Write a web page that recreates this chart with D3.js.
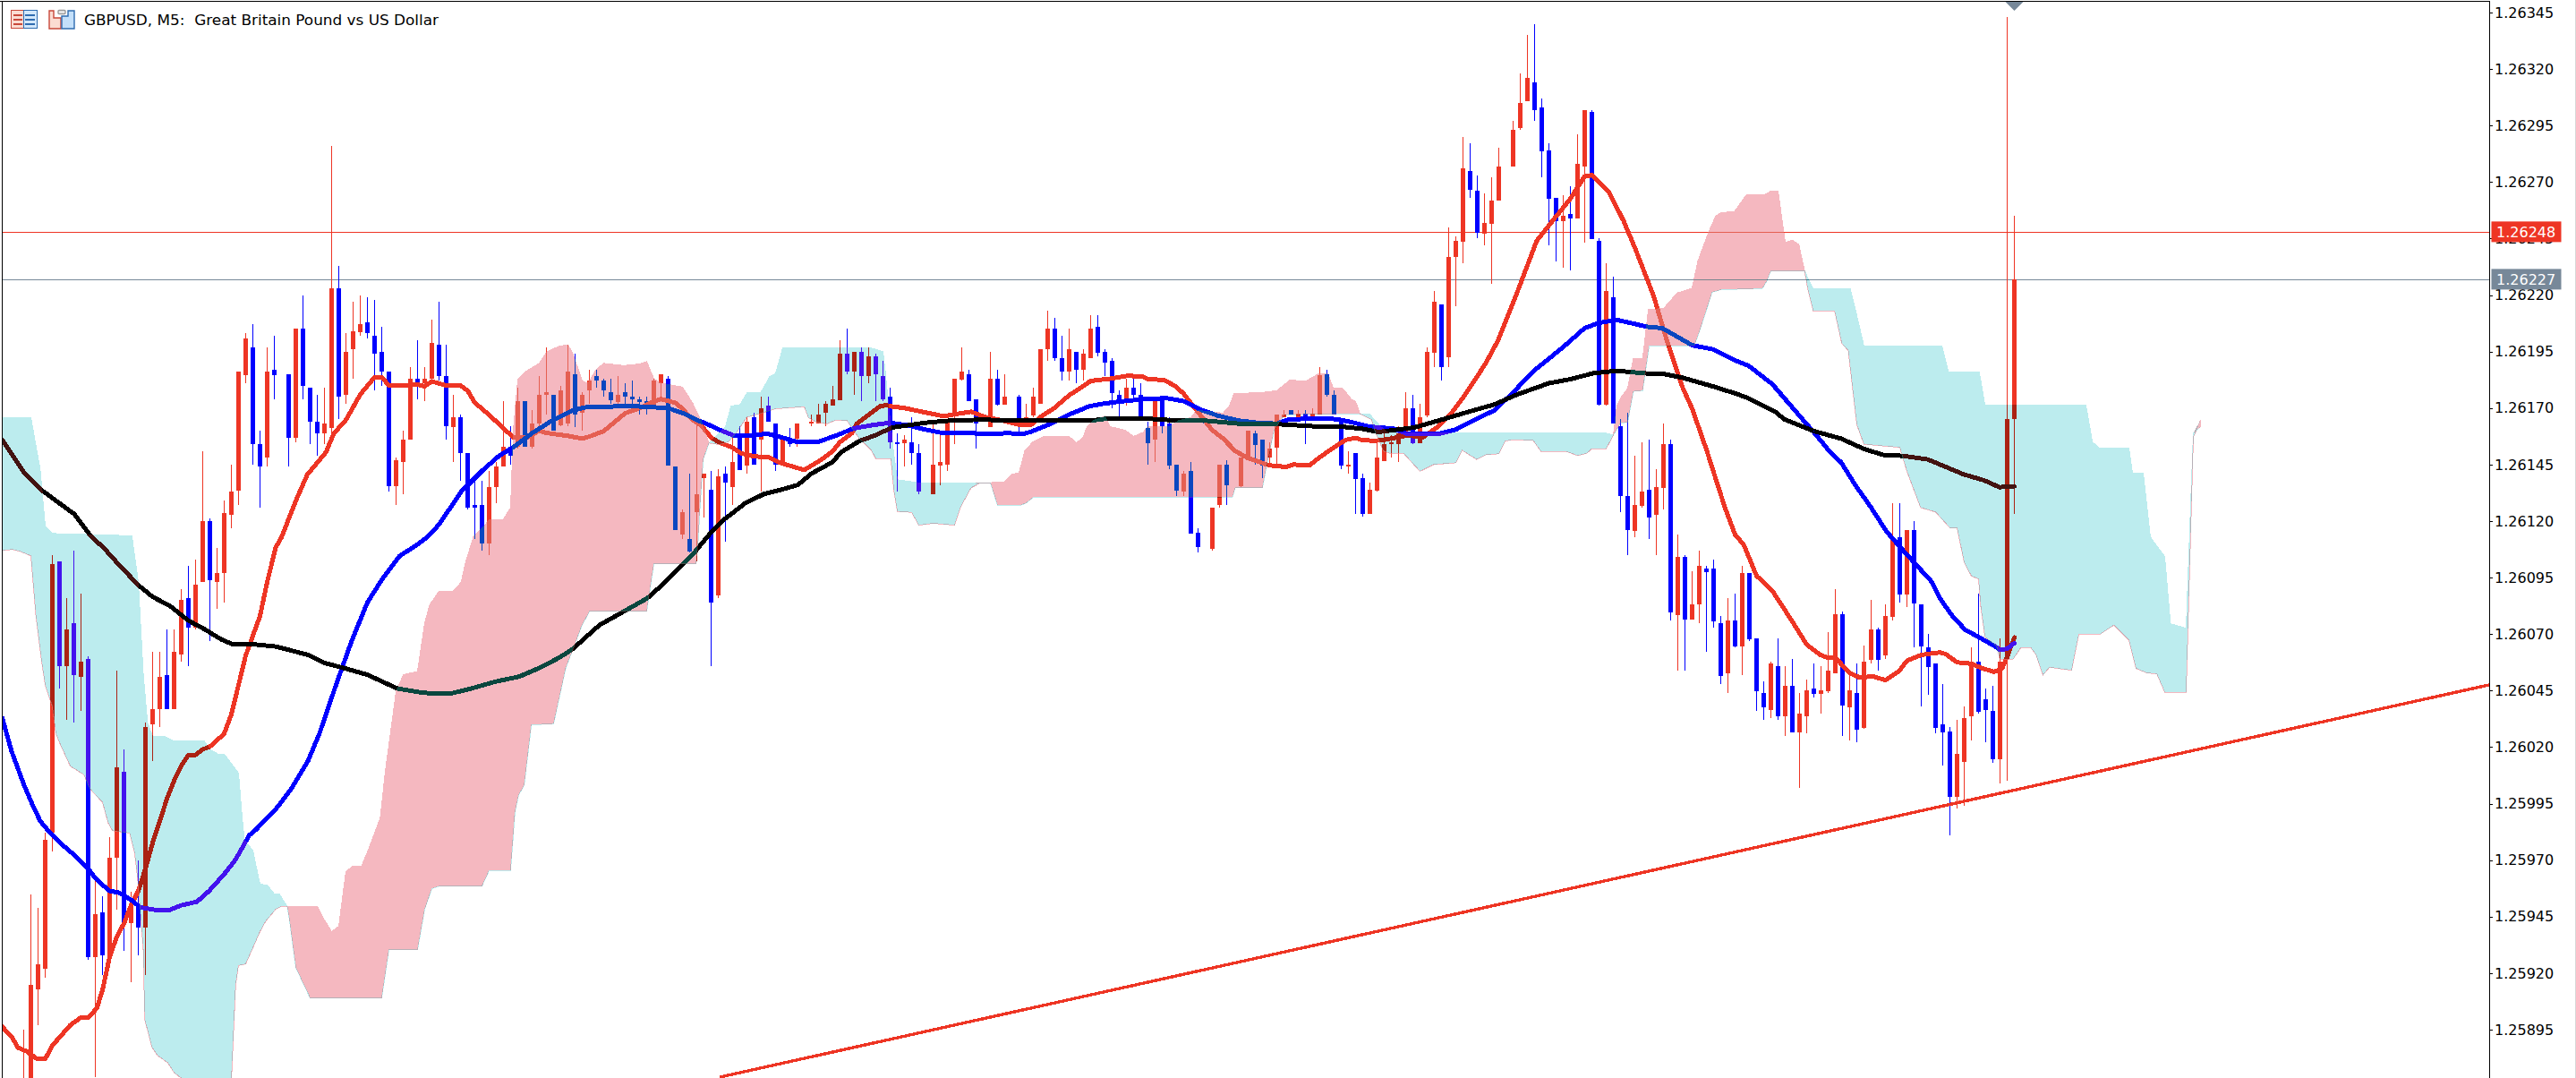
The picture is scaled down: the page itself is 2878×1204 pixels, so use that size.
<!DOCTYPE html>
<html><head><meta charset="utf-8">
<style>html,body{margin:0;padding:0;background:#fff;overflow:hidden}svg{display:block}text{font-family:"DejaVu Sans",sans-serif}</style>
<script src="https://cdn.jsdelivr.net/npm/d3@7"></script></head>
<body><svg id="chart" width="2878" height="1204"></svg>
<script>
// All series are in points above the base price (1 point = 0.00001).
const basePrice = 1.26, pointSize = 0.00001;
const symbolTitle = "GBPUSD, M5:  Great Britain Pound vs US Dollar";
const priceTicks = [1.26345,1.26320,1.26295,1.26270,1.26245,1.26220,1.26195,1.26170,1.26145,1.26120,1.26095,1.26070,1.26045,1.26020,1.25995,1.25970,1.25945,1.25920,1.25895];
const lastBidPrice = 1.26227, askLinePrice = 1.26248;
const firstCandleBar = 3;
const highs = [
-105,-45,-51,-18,105,102,86,107,88,60,
-39,-46,-20,54,19,-44,-30,31,62,62,
72,72,90,100,103,151,121,108,129,145,
186,203,207,160,197,202,114,185,205,220,
179,176,179,286,233,203,217,220,219,218,
206,186,148,160,188,200,188,209,217,198,
176,167,150,138,138,142,146,173,162,179,
173,169,184,197,176,180,198,194,177,187,
187,183,183,184,181,182,175,175,183,185,
184,144,125,141,164,141,142,143,144,159,
162,166,168,175,175,163,156,161,163,155.5,
167,172,173,180,200,205,195,197,197,194,
191,179,159,158,166,154,161,164,159,164,
183,197,187,174,165.5,195,187,185,165.5,176,
172,179,196,213,210,202,205,195,196,211,
211,196,192,178,183,183,181,164,173,174,
166,145,142,146,117,164.5,126,145,147,164.5,
148,160,160,156,155,167,169,169,169,169,
170,188,187,178,164,151,150,141,137,156,
161,158,162,177,176,172,197,222,216,250,
246,290,287,273,265,272,285,209.5,297,318,
335,340,307,287,263,264,268,291,302,302,
245,234,228,165,168,149,155,156,143,163,
156,114,105,98,107,100,103,78,86,88,
100,97,68,49,58,68,56,59,44,50,
57,56,71,90,80,54,57,65,85,73,
83,128,128,116,120,83,70,57,48,29,
32,38,64,88,46,47,68,343,255];
const lows = [
-160,-135,-103,-82,-26,46,32,31,36,-74,
-126,-81,-73,-52,-70,-84,-72,-81,14,29,
37,37,58,56,72,93,67,81,84,117,
127,181,145,126,144,174,112.6,144,155,174,
154,149,154,158,165,172,183,202,201,178,
180,133,127,132,156,174,173,182,182,156,
146,138,125,112,107,105,128,144,145,152,
153,152,162,167,160,162,162,161.5,160,172,
179,175,172,172,172,172,167,167,170,175,
144.6,116,112,106,102,121.5,56,86,111,127,
142.6,141,145,133,164,142,145,153,153,154,
162,163,162,171,173.5,185,176,173,181,173,
173,152,133,144,145,132,160,132,136,142,
154,182,173,152,164.5,161.6,171,171.4,164.5,159,
162,166,171.7,191,191,182,182,181,182,192,
193,184,170,166,171,174,166,145,146,159,
143,131,131,114.6,106,163.5,107,126,127,163.5,
135,148,145,139,145,145,166,167,166,154,
166,167,175,167,143,141,123,122,123,133,
146.6,148,146,158,154,154.6,166,188,182,188,
215,234,263,245,242,225,262,208.5,276.8,293,
305.8,297,272,242,235,232,231,254,243,244.8,
171,171,163,124,105,113,126,112,105,125,
76,54,54,76.5,75,62,73,48,44,64,
52,67,36,32,33,32,25,26.6,2,26,
42,35,44,52.8,25,23,22,28,57,54,
59,76,84,82,64,38,43,26,12,-19,
-7,-6,23,35,22,13,4,5,123];
const opens = [
-150,-130,-87,-78,-18,102,56,75,51,59,
-73,-53,-72,-29,9,-58,-50,-60,30,37,
52,37,61,86,73,93,120,93,97,122.6,
133.4,184.5,197,154,148,187,113,185,157,205,
179,164,159,161,223,176,196,203.5,208,202,
195,186,135.5,146,156,183,181,183,198,184,
161.6,166,150,127,127,110,135,144,153,153,
173,153,163,176,176,162.5,163,185,168,178,
184,182,177,172.7,177,175,174,173,170,181,
183,144,114,112,124,139,134,87,141,135,
158,144.6,166,156,171,163,145,157,156.5,155,
163,163,168,171,173.5,194,186,195,184,193,
184,175,155,154.5,155,150,161,132,144.6,145,
167,182.5,185,174,165,161.6,183,171.5,165,175,
163,166.7,171.7,196,205,192,186,195,187,192,
206,195,191,176,174,179,176,161,156,174,
163,145,133,142,115,164,107.7,127,145,164,
135.4,148,159,156,148,152.6,166,169,166,167.4,
166,167,185,176,164.4,144,150,139,123,133.6,
146.6,154,154,158,170,154.6,166.7,194.5,216,192.5,
237,243.6,275,266,247,251.5,262,209,276.8,293.8,
305.8,314,303,284,263,252.7,256,254,276.7,301,
244,171.3,219,162,131,115.6,126.6,134,122.9,134.7,
154,78.5,104,76.5,83,99,99,75,52.8,76,
64.6,97,68,44,36.5,56,33.8,47,26.6,33.8,
46,43.7,44.8,52.8,79,37.7,44,28.6,58.7,72,
60.7,77.7,113,87.6,116,83,64,57,30,27,
-2,13.6,33.8,58,41,36,14.7,59,165];
const closes = [
-135,-85,-76,-21,101,56,72,52,58,-73,
-54,-72,-29,11,-58,-49,-60,29,37,51,
37,62,85,73,92,120,94,97,123.5,133,
186,201,154,144,186,184.5,113.5,157,205,180,
164,159,163,223,175,195,204,207,203,194,
186,135.5,147,156,183,181,183,199,184,162,
166,150,126,126,110,135,144,153,149,173,
153,163,176,177,160,178,186,167,176,182,
182,178,173.6,176,175,174,172.6,171,182,185,
144.6,116,124,106.6,132,141,84,140,137,146,
142.6,164,145,170,164,145,156,154,163,154.5,
164,167,172,174,194,186,195,184,193,185,
174,155,154,156,150,133,160.5,145,146,164,
183,186,173,163,164.5,183,171.4,175,164.5,163,
166,175,196,205,192,186,196,187,194,205,
194.6,190,176.7,174,179,176,166,154.5,173,161.8,
144.7,133.6,141,114.6,108.6,163.5,126,145,135.7,163.5,
148,160,153.8,144.7,152,167,167,167,167.4,165,
167.4,184.5,176,167,144.7,145,138.7,123,134,148,
154,155,159,170,154.6,166,195,217,188,237,
244,276,266.5,247.5,252,262,277,209.5,293,305,
316,301.8,283.6,262.5,252.7,255,254,278,302,244.8,
171.3,222,163,131,115.9,127,133,121.6,135,154,
79.7,104,76.5,83,100,97.5,75.7,51.6,76,64.6,
97,67.8,44.8,37.7,57,33.8,47,26.6,35,45,
43.7,45,54,79,38.5,45,27.8,58,72,58.7,
78,113,87.6,116,83.7,64.6,55.5,28.6,26.6,-2,
17,33,57.5,35.7,36.5,14.7,58,165,227];

const fastMaBars = [0,1.4,2.2,3.4,4.9,6,7,8.4,9.5,11,12,13.2,14,15,16,17,18,19,20,21,22,23,24,25,26,27,28,29,30,31,32,33,34,36,37,38.2,39,41,42.6,45.2,46.3,48,50,52,53,54,56,58,59,60,62,64,65,66,68,70,71.4,73.3,75,76,79,81,82,84,85.5,87,89,91,92,94,95,96.3,97.6,99,100,102,103.2,105,107,108.5,110.5,112,114.3,116,117,118.7,119.3,121,122.6,123.5,124,126,129,131.5,133.5,135.3,137.3,139.8,142.4,143.6,145.3,146.8,149,150.5,152,154.7,157.2,159.3,160,162.2,163.9,165,166.3,167.6,168.9,170.5,172.2,173.9,176.6,177.6,179.3,180.3,182.6,183.9,185.7,187.6,189,190,191.9,192.9,196.3,198.4,200.5,202.2,203.8,205.5,207.2,208.9,211.4,214.3,216.8,218.9,221,222,224.3,226.4,228,230.6,232.6,234.7,236,238,240.6,242,243.2,245,247.2,249.7,252,253.9,255,256,258,259.3,261.4,263,264.9,266,268,270.6,271.4,273,275,276.4,278.2,279.3,280,281];
const fastMa = [-103.7,-108.6,-113,-114.6,-118,-118,-112,-107,-103,-99.6,-99.6,-95.6,-87.5,-72.8,-63.9,-58,-50,-43.6,-33.8,-22.4,-12.7,-2.9,5.2,11.7,16.6,16.6,19,20.2,23,26,34.5,47.5,60.5,78,93,108.4,112.8,129,140.5,150.4,158.7,164.8,176,183.7,183.7,180,180,180.4,179.6,181.8,180,180,177.7,172.4,167,161,157,157,160,159,157.7,156.5,157.4,159.8,163.8,167.7,170,173,174,172.3,169.7,165,162.4,157,155,152.5,150,148.6,148.3,146,144,142.6,147,151,155,159,163,167,170.8,171.3,170.8,170,168,166.4,167.5,168.4,166,164.4,162.4,162.4,166.8,169.7,175.7,178.7,182,183,184.3,183.9,182.7,182.5,179.6,176.3,171,165.8,160.5,156.5,151,148,145,144.4,144,145,144.7,148,152,155.9,156.8,155.7,155.6,155.9,157.9,157,161.8,167,173.7,181.6,190,200,219.8,244,254,262.2,272.6,273,266,253,241,219.8,198.6,178.9,169.8,151.6,125.8,114,109.6,95.8,89.2,77,65.4,60.8,59.5,59.5,52.9,50.9,51.2,49.6,53.6,58.2,60.8,61.9,61.2,57.5,56.9,55,53.3,54.9,60,68.5];

const midMaBars = [0,1.3,3,4.3,5.3,6.8,8.4,10.5,12,13,14,15,16.3,18,19.3,21.3,23.4,25,27.2,28.9,31,32.6,34.5,35.4,38.2,40.4,42.7,44.3,46.6,48.8,51,53,55.5,57.7,59.4,61,64.1,67.2,69.4,71.7,73.9,76.7,79.7,81.8,83.9,86.8,89.7,93,95.1,96.8,98.4,100.1,102.2,104.7,106.8,108.9,111,113.9,116.4,118.9,121.4,123.9,126.4,128.9,131.4,134.7,137.2,140.5,142.6,143.9,146.4,148.9,151.8,153.9,156.4,159.7,162.6,165.1,167.2,169.7,172.6,175.5,178,179.7,183.9,186.4,188.4,190.9,194.3,196.3,200.5,203,205.1,208.4,210.9,213.9,218,221,223,225.5,229.7,231.8,236,238.9,242.3,243.9,247.2,250.5,253.4,255.1,256.8,258.9,261,263.1,264.7,267.2,269.5,270.6,272.2,274.1,276,278.2,279,280,281];
const midMa = [32.9,18.2,3.6,-6,-12.7,-18.4,-23.2,-29,-33.8,-37.9,-41,-43.6,-44.4,-47.6,-50.9,-52,-52,-50,-48.4,-43.6,-36.2,-29.7,-19,-16.6,-7.5,1.7,13.9,26,47.4,67,84,94,104.6,109,113,118.5,133,142.8,148.9,153.4,158.7,164.3,169,170.6,170.4,171,170.6,170,167.7,165,163,160.5,157.8,157.8,158.7,157,155,155,157.8,161,162.4,163.5,162.4,160.5,158.9,159.1,158.5,158.9,158.5,159.8,163,167,170.8,172,173,174,174.4,173,169.5,166.7,164.5,163.4,163.1,165,165.4,165.1,163.8,161.8,160.9,158.5,158.5,160.5,164,169,176.6,186.5,197,205.4,207.7,209,206,205.4,197.8,196,190.7,188.7,180.6,168.4,157.8,151.2,146,135.4,126,115.6,109.7,101,93,85.9,78.6,72,68.7,64.8,63,63.5,66];

const slowMaBars = [0,3,5.5,7.6,10.1,12.2,14.3,16.4,19.1,21,23.4,26,28.4,30.5,32,35.4,38.2,40.4,42.7,44.9,47.7,51,55.2,58.8,62.5,65.5,68.9,72.2,75,77.8,79.7,83.4,86.8,90.1,92.6,95.1,96.9,98.8,100.9,103.8,106.4,108.9,111.1,113,115.9,117.2,119.7,121.8,124.3,128.9,132.2,136,141,146.4,149.7,152.2,154.7,158.9,163,167.2,173,178,183.9,187.6,190,192.2,195.9,197.2,201.4,204.7,208.4,211.4,216,218.9,222.2,225.5,229.3,232.2,234.7,238.9,242.3,243.9,247.6,248.9,253,256.8,260,263,265.3,268.9,273.9,276.8,278.9,281];
const slowMa = [156,141.6,133.7,128.8,123,114,107.7,100.3,91.4,86.5,82.5,76,71.9,67.8,65.7,65.4,64.5,62.7,60.8,57.3,55,52,45.9,44,43.6,45.9,49,51.2,55,59.6,63.5,74,80,85.9,93,101,107,114.3,120.9,128,132,134,136,141,146,150.6,155.4,157.8,161.4,163.5,164.4,164.8,164.7,164.7,164.5,164.5,165.5,165.5,164.7,164.7,163,162.9,161.8,161.6,160.8,159.4,160.9,161.4,165.2,168.3,171.6,175.8,181,182.7,185.4,186.5,185.4,185,183.4,179.6,176.2,174.3,168.4,165,159.8,156.5,151.9,149,148.9,147.3,140.7,138,135,135.4];

const spanABars = [0,4,5.3,5.6,6,7,18.1,19,19.7,20.3,21,22.6,24,28.2,29,30.1,31,33,33.4,33.8,35,36,37,38,38.7,39.8,40.1,41,43,53,54,58,59,60,61,67,68,71,71.6,72.1,72.9,73.9,77,78.7,79.8,80.9,82,90,91,96.9,97.2,97.4,97.9,98.7,99,101,101.8,103,104,105.9,107.2,108,109,121.4,123,123.3,123.7,124.1,124.5,125,128.6,136.7,138,139,142.2,143,144,171.8,172.2,176,176.6,177.6,178.5,179.1,189.6,190.9,192.5,193.5,223.7,225,226,227,227.8,229.1,230,236.3,237.1,238.8,240.1,245.8,246.4,247,251.7,252.9,258.1,259.1,260,270.9,271.8,276.1,276.9,291,291.9,292.9,297,297.5,299,300,302,302.8,305,306,307];
const spanA = [165.8,165.8,142.8,132,117.8,114.5,113.5,93,52,30.6,24.9,24.9,22.7,22.7,19,17,17,8.5,-7.5,-21,-25.8,-40.7,-41,-45,-45,-50.5,-56.3,-77.6,-91,-91,-69.7,-69.7,-51.7,-42.6,-41.5,-41.5,-34.6,-34.6,-9,-1.4,3.2,29.9,30.3,55,64,73.4,80,80,101,101,111.6,123.5,147.3,154.5,155.5,161.8,171,171.3,176.7,176.7,184,185.3,196.5,196.5,195,186.9,173.7,161.8,150,138.3,136.7,136.7,137,127,127,128,130.5,130.5,134.8,134.8,144.7,159.8,164.5,167,167.5,167.5,161.8,159.2,159.2,158,163.4,163.7,177.4,177.7,197.5,197.5,204.6,221.3,222.4,222.9,226,230.7,230.7,222.6,222.6,209.6,197.3,197.3,186,186,171.2,171.2,155,152.2,152.2,141.3,141.3,112.9,104.3,74.6,72.6,159,161.7];

const spanBBars = [0,1.4,2.5,4,4.7,5.5,6,7,7.5,8,9.5,11.4,12.2,14,14.8,15.4,17.8,18.5,19,19.7,19.9,20.9,21.7,23.1,24,24.8,25.5,29,32,32.6,33,34,36,36.8,38.2,39,39.8,44,44.9,46,47,48,49,50.2,51.3,52.8,53.5,55,56,58,59,59.7,61,63,64.1,64.7,65.8,67,68,70,71,71.4,72,73,75,76.1,77.8,79,79.7,81,81.8,82.9,84,86.8,89,90,91,92,95,96.4,97.6,98.7,100.1,101.4,102.5,104,106,108,112,112.6,113.7,115.2,116.4,118,118.7,119.7,121.4,122,124.1,124.5,125,127,128,130,133,133.8,135.3,136.7,138,140,141,142,142.8,143.9,145.5,149,150,150.9,151.5,152.4,154,154.7,156.8,158,159.3,160,163,164.3,166,166.8,170.5,171.4,172,176.2,178,179.8,182.1,183.9,185.1,185.9,187.2,188.4,189,189.6,191.2,191.7,192.9,193.8,195.7,198,199.9,203,203.9,205.9,207.2,209,209.9,210.9,213.8,214.9,218.4,220,221.3,222,224,225,225.5,226.1,227,227.8,229.1,229.9,232,233.9,236,236.8,238.3,239.3,240.1,241.9,243.6,246.1,247,248,249,250,250.9,251.7,252.2,252.9,255.9,256.9,257.8,259,260,265,266,267.9,270,272,273,274,275,276,276.3,276.9,278.5,279,280.8,281.9,283.3,284,285,285.9,289,290,293,294.9,297,298,299.5,300.9,302,305,306,307];
const spanB = [107,107.4,106.6,104.6,78,58,47.4,38,26,22,11.6,7.8,1.7,-4.4,-13.6,-17,-18,-27,-41,-70,-100.5,-112.7,-116.5,-119.6,-124,-126,-127,-132,-128,-85,-76.6,-76,-61.6,-57,-51.7,-50.5,-50.5,-50.5,-56,-61.6,-59.3,-35,-32.6,-32.6,-24,-11.3,9.3,44.4,52,53.5,74.9,83,89,89,93,101.6,113,117,120.4,120.8,126,161,182.5,186,189.8,195,197.4,198,194,182,181,186.9,189.8,188.8,189.5,190.6,183,181,179.3,172.3,164.4,154.5,153.9,155,159,166,167.7,169.7,170.6,165.7,163.8,163,164.7,164.4,161,156.5,151.2,147.6,147.6,134,124.2,123.9,118.2,119,118.2,126,134.7,137,137,137.4,140.7,141.3,151,155,157.5,157.5,154.6,156.8,161.8,164.5,166.4,161.8,160.2,157.5,159.2,161.8,161.8,164.5,165.8,169,167.8,171,176.3,177,177.7,182.3,182,185.3,185.3,178.7,178.7,174,173,167.5,165,159.8,151,150,150,142,145,145.8,151.3,147.3,149.3,149.8,155.4,156,155.7,150.8,150.8,149,150,152,152,158,171,175,178.6,191.8,192,213.7,214,220.9,223,235,247.8,255,256.5,256.9,264.4,264.4,266,266,243.2,244.3,242.4,230.7,222,213,213,198.6,195.5,162.6,154,152.6,142,126,124,117,116.9,101.7,95.7,94.4,82.5,68.7,64.7,58.8,58.8,64,64,61,51.9,55.3,54,70,70,74,67.4,54.8,52.8,52.4,44.3,44.3,157,164.6];

const trendBars = [100.2,347.4];
const trendPoints = [-126,47.6];

const price = v => basePrice + v*pointSize;
const W = 2878, H = 1204, plotRight = 2781;
const x = d3.scaleLinear().domain([0,281]).range([2.5,2250.5]);
const y = d3.scaleLinear().domain([1.26345,1.25895]).range([14,1150]);
const RED = "#EE3524", BLUE = "#0000FF", SLATE = "#778899";

const svg = d3.select("#chart");
svg.append("defs").append("clipPath").attr("id","plot").append("rect").attr("x",2).attr("y",2).attr("width",plotRight-2).attr("height",H-2);
svg.append("rect").attr("width",W).attr("height",H).attr("fill","#fff");
const plot = svg.append("g").attr("clip-path","url(#plot)");
plot.append("rect").attr("width",W).attr("height",H).attr("fill","#fff");

// horizontal price lines
[[askLinePrice,RED],[lastBidPrice,SLATE]].forEach(([p,c])=>{
  plot.append("rect").attr("x",2).attr("width",plotRight-2).attr("y",Math.round(y(p))).attr("height",1).attr("fill",c);
});

// candles
const candles = opens.map((o,i)=>({bar:firstCandleBar+i,o,c:closes[i],h:highs[i],l:lows[i]}));
const cg = plot.append("g").attr("shape-rendering","crispEdges");
cg.selectAll("rect.w").data(candles).join("rect").attr("class","w")
  .attr("x",d=>x(d.bar)-0.5).attr("width",1)
  .attr("y",d=>Math.round(y(price(d.h))))
  .attr("height",d=>Math.max(1,Math.round(y(price(d.l)))-Math.round(y(price(d.h)))))
  .attr("fill",d=>d.c>=d.o?RED:BLUE);
cg.selectAll("rect.b").data(candles).join("rect").attr("class","b")
  .attr("x",d=>x(d.bar)-2.5).attr("width",5)
  .attr("y",d=>Math.round(y(price(Math.max(d.o,d.c)))))
  .attr("height",d=>Math.max(2,Math.round(y(price(Math.min(d.o,d.c))))-Math.round(y(price(Math.max(d.o,d.c))))))
  .attr("fill",d=>d.c>=d.o?RED:BLUE);

// trend line
plot.append("path").datum(trendBars.map((b,i)=>[b,trendPoints[i]]))
  .attr("d",d3.line().x(d=>x(d[0])).y(d=>y(price(d[1]))))
  .attr("fill","none").attr("stroke",RED).attr("stroke-width",3.4).attr("shape-rendering","crispEdges");

// moving averages
const maLine = d3.line().x(d=>x(d[0])).y(d=>y(price(d[1])));
[[fastMaBars,fastMa,RED],[midMaBars,midMa,BLUE],[slowMaBars,slowMa,"#000"]].forEach(([bars,vals,c])=>{
  plot.append("path").datum(bars.map((b,i)=>[b,vals[i]])).attr("d",maLine)
    .attr("fill","none").attr("stroke",c).attr("stroke-width",5).attr("stroke-linejoin","round").attr("stroke-linecap","round").attr("shape-rendering","crispEdges");
});

// ichimoku cloud, blended over everything below it
const aAt = d3.scaleLinear().domain(spanABars).range(spanA);
const bAt = d3.scaleLinear().domain(spanBBars).range(spanB);
const cloudBars = Array.from(new Set([...spanABars,...spanBBars])).sort((p,q)=>p-q);
const cloud = cloudBars.map(k=>({k,a:aAt(k),b:bAt(k)}));
const tealArea = d3.area().x(d=>x(d.k)).y0(d=>y(price(d.b))).y1(d=>y(price(Math.max(d.a,d.b))));
const pinkArea = d3.area().x(d=>x(d.k)).y0(d=>y(price(d.a))).y1(d=>y(price(Math.max(d.a,d.b))));
const edge = (bars,vals)=>maLine(bars.map((b,i)=>[b,vals[i]]));
function cloudLayer(area,bars,vals,color,blend){
  const g = plot.append("g").style("mix-blend-mode",blend).attr("shape-rendering","crispEdges");
  g.append("path").attr("d",area(cloud)).attr("fill",color);
  g.append("path").attr("d",edge(bars,vals)).attr("fill","none").attr("stroke",color).attr("stroke-width",1);
}
cloudLayer(tealArea,spanABars,spanA,"#431311","difference");
cloudLayer(pinkArea,spanBBars,spanB,"rgb(245,157,171)","multiply");
cloudLayer(pinkArea,spanBBars,spanB,"rgb(10,71,63)","screen");

// frame
svg.append("rect").attr("x",0).attr("y",0).attr("width",plotRight+1).attr("height",1).attr("y",1).attr("fill","#000");
svg.append("rect").attr("x",2).attr("y",1).attr("width",1).attr("height",H).attr("fill","#000");
svg.append("rect").attr("x",plotRight).attr("y",1).attr("width",1).attr("height",H).attr("fill","#000");
svg.append("rect").attr("x",W-1).attr("y",0).attr("width",1).attr("height",H).attr("fill","#d8d8d8");

// price axis
const axis = d3.axisRight(y).tickValues(priceTicks).tickSize(4).tickPadding(2).tickFormat(d3.format(".5f"));
const ag = svg.append("g").attr("transform",`translate(${plotRight},0)`).call(axis);
ag.select(".domain").remove();
ag.selectAll("line").attr("stroke","#000").attr("shape-rendering","crispEdges");
ag.selectAll("text").attr("font-family","DejaVu Sans").attr("font-size",16).attr("fill","#000");

// price tags
[[askLinePrice,RED],[lastBidPrice,SLATE]].forEach(([p,c])=>{
  const cy = y(p);
  svg.append("rect").attr("x",2783.5).attr("y",cy-11.5).attr("width",78).attr("height",23).attr("fill",c);
  svg.append("text").attr("x",2789).attr("y",cy+6).attr("font-size",16).attr("fill","#fff").text(d3.format(".5f")(p));
});

// current bar marker
svg.append("path").attr("d",`M${x(281)-10},2L${x(281)+10},2L${x(281)},12Z`).attr("fill",SLATE);

// header
const ic = svg.append("g").attr("stroke-width",1.4).attr("shape-rendering","crispEdges");
ic.append("rect").attr("x",12.5).attr("y",11.5).attr("width",14).attr("height",20).attr("fill","#fbdcd2").attr("stroke","#c8483a");
ic.append("rect").attr("x",26.5).attr("y",11.5).attr("width",15).attr("height",20).attr("fill","#d3e8fb").attr("stroke","#2f6cb0");
[16,21,26].forEach(v=>{
  ic.append("rect").attr("x",15).attr("y",v).attr("width",10).attr("height",2).attr("fill","#c8483a").attr("stroke","none");
  ic.append("rect").attr("x",28).attr("y",v).attr("width",11).attr("height",2).attr("fill","#2f6cb0").attr("stroke","none");
});
const ic2 = svg.append("g").attr("stroke-width",1.4);
ic2.append("path").attr("d","M55,12h5v8h8v12h-13z").attr("fill","#fbdcd2").attr("stroke","#c8483a");
ic2.append("path").attr("d","M69,32v-14h7v-6h7v20z").attr("fill","#c4e0fa").attr("stroke","#2f6cb0");
ic2.append("rect").attr("x",65).attr("y",11.5).attr("width",8).attr("height",4).attr("rx",1).attr("fill","#eee").attr("stroke","#999");
svg.append("text").attr("x",94).attr("y",28).attr("font-size",16).attr("xml:space","preserve")
  .style("white-space","pre").attr("textLength",396).attr("lengthAdjust","spacingAndGlyphs").attr("fill","#000").text(symbolTitle);
</script></body></html>
